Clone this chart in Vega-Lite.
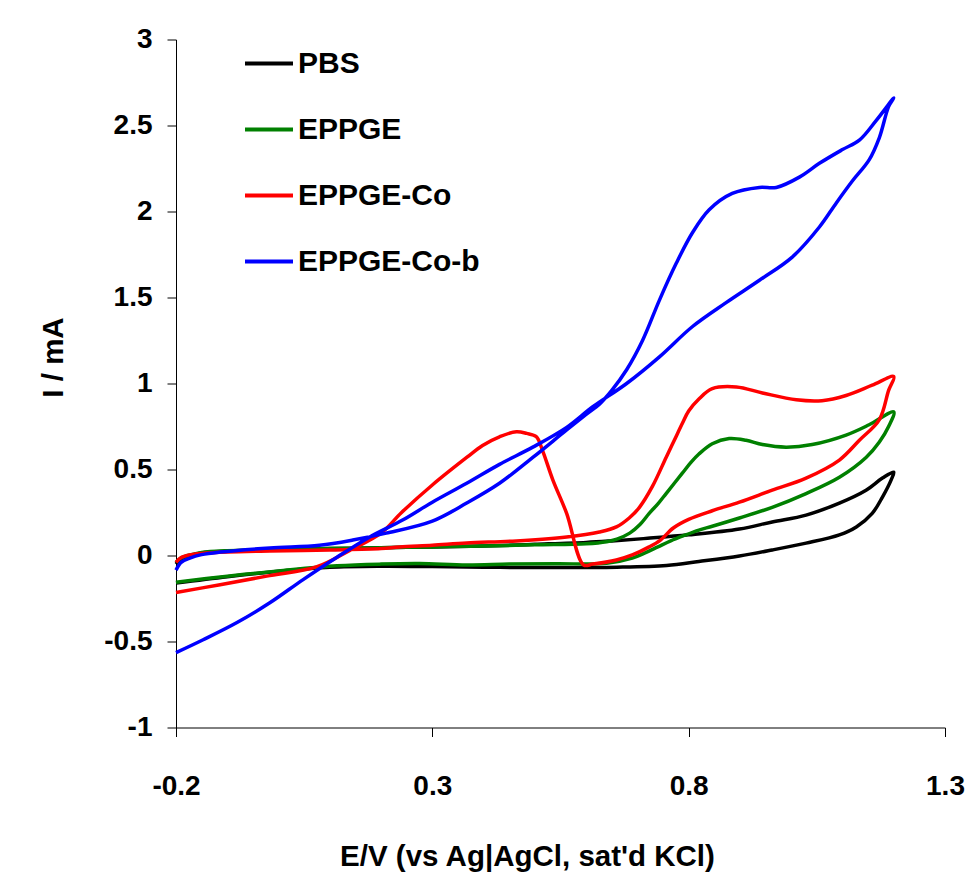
{
  "$schema": "https://vega.github.io/schema/vega-lite/v6.json",
  "width": 769,
  "height": 688,
  "autosize": {"type": "none"},
  "padding": {"left": 176, "top": 39.5, "right": 21, "bottom": 153.5},
  "background": "white",
  "config": {
    "view": {"stroke": null},
    "axis": {
      "grid": false,
      "domainColor": "#000000",
      "domainWidth": 1,
      "tickColor": "#000000",
      "tickWidth": 1,
      "tickSize": 9,
      "labelFont": "Liberation Sans",
      "labelFontWeight": "bold",
      "labelFontSize": 28,
      "labelColor": "#000000",
      "titleFont": "Liberation Sans",
      "titleFontWeight": "bold",
      "titleFontSize": 29.5,
      "titleColor": "#000000"
    },
    "legend": {
      "labelFont": "Liberation Sans",
      "labelFontWeight": "bold",
      "labelFontSize": 30,
      "labelColor": "#000000",
      "labelLimit": 0
    }
  },
  "data": {
    "values": [
      {"s":"PBS","o":1,"x":-0.2,"y":-0.05},{"s":"PBS","o":2,"x":-0.19,"y":-0.02},{"s":"PBS","o":3,"x":-0.17,"y":0.0},{"s":"PBS","o":4,"x":-0.15,"y":0.015},{"s":"PBS","o":5,"x":-0.1,"y":0.025},{"s":"PBS","o":6,"x":0.0,"y":0.035},{"s":"PBS","o":7,"x":0.1,"y":0.04},{"s":"PBS","o":8,"x":0.2,"y":0.045},{"s":"PBS","o":9,"x":0.3,"y":0.05},{"s":"PBS","o":10,"x":0.4,"y":0.055},{"s":"PBS","o":11,"x":0.5,"y":0.065},{"s":"PBS","o":12,"x":0.6,"y":0.076},{"s":"PBS","o":13,"x":0.65,"y":0.085},{"s":"PBS","o":14,"x":0.72,"y":0.1},{"s":"PBS","o":15,"x":0.8,"y":0.12},{"s":"PBS","o":16,"x":0.899,"y":0.154},{"s":"PBS","o":17,"x":0.963,"y":0.195},{"s":"PBS","o":18,"x":1.029,"y":0.235},{"s":"PBS","o":19,"x":1.094,"y":0.305},{"s":"PBS","o":20,"x":1.146,"y":0.38},{"s":"PBS","o":21,"x":1.178,"y":0.45},{"s":"PBS","o":22,"x":1.2,"y":0.485},
      {"s":"PBS","o":23,"x":1.195,"y":0.44},{"s":"PBS","o":24,"x":1.178,"y":0.34},{"s":"PBS","o":25,"x":1.158,"y":0.245},{"s":"PBS","o":26,"x":1.127,"y":0.166},{"s":"PBS","o":27,"x":1.094,"y":0.12},{"s":"PBS","o":28,"x":1.029,"y":0.072},{"s":"PBS","o":29,"x":0.963,"y":0.032},{"s":"PBS","o":30,"x":0.899,"y":-0.003},{"s":"PBS","o":31,"x":0.82,"y":-0.035},{"s":"PBS","o":32,"x":0.757,"y":-0.058},{"s":"PBS","o":33,"x":0.66,"y":-0.068},{"s":"PBS","o":34,"x":0.5,"y":-0.07},{"s":"PBS","o":35,"x":0.4,"y":-0.068},{"s":"PBS","o":36,"x":0.3,"y":-0.064},{"s":"PBS","o":37,"x":0.2,"y":-0.062},{"s":"PBS","o":38,"x":0.1,"y":-0.068},{"s":"PBS","o":39,"x":0.0,"y":-0.092},{"s":"PBS","o":40,"x":-0.1,"y":-0.123},{"s":"PBS","o":41,"x":-0.2,"y":-0.16},

      {"s":"EPPGE","o":1,"x":-0.2,"y":-0.04},{"s":"EPPGE","o":2,"x":-0.19,"y":-0.015},{"s":"EPPGE","o":3,"x":-0.17,"y":0.005},{"s":"EPPGE","o":4,"x":-0.15,"y":0.018},{"s":"EPPGE","o":5,"x":-0.1,"y":0.028},{"s":"EPPGE","o":6,"x":0.0,"y":0.035},{"s":"EPPGE","o":7,"x":0.1,"y":0.04},{"s":"EPPGE","o":8,"x":0.2,"y":0.045},{"s":"EPPGE","o":9,"x":0.3,"y":0.05},{"s":"EPPGE","o":10,"x":0.4,"y":0.055},{"s":"EPPGE","o":11,"x":0.5,"y":0.062},{"s":"EPPGE","o":12,"x":0.6,"y":0.068},{"s":"EPPGE","o":13,"x":0.64,"y":0.08},{"s":"EPPGE","o":14,"x":0.66,"y":0.095},{"s":"EPPGE","o":15,"x":0.685,"y":0.13},{"s":"EPPGE","o":16,"x":0.705,"y":0.18},{"s":"EPPGE","o":17,"x":0.723,"y":0.245},{"s":"EPPGE","o":18,"x":0.74,"y":0.3},{"s":"EPPGE","o":19,"x":0.756,"y":0.36},{"s":"EPPGE","o":20,"x":0.772,"y":0.42},{"s":"EPPGE","o":21,"x":0.788,"y":0.48},{"s":"EPPGE","o":22,"x":0.804,"y":0.54},{"s":"EPPGE","o":23,"x":0.82,"y":0.59},{"s":"EPPGE","o":24,"x":0.846,"y":0.65},{"s":"EPPGE","o":25,"x":0.879,"y":0.68},{"s":"EPPGE","o":26,"x":0.912,"y":0.67},{"s":"EPPGE","o":27,"x":0.944,"y":0.645},{"s":"EPPGE","o":28,"x":0.99,"y":0.63},{"s":"EPPGE","o":29,"x":1.041,"y":0.645},{"s":"EPPGE","o":30,"x":1.107,"y":0.7},{"s":"EPPGE","o":31,"x":1.152,"y":0.76},{"s":"EPPGE","o":32,"x":1.2,"y":0.835},
      {"s":"EPPGE","o":33,"x":1.19,"y":0.75},{"s":"EPPGE","o":34,"x":1.172,"y":0.66},{"s":"EPPGE","o":35,"x":1.146,"y":0.57},{"s":"EPPGE","o":36,"x":1.094,"y":0.455},{"s":"EPPGE","o":37,"x":1.029,"y":0.36},{"s":"EPPGE","o":38,"x":0.963,"y":0.28},{"s":"EPPGE","o":39,"x":0.899,"y":0.218},{"s":"EPPGE","o":40,"x":0.846,"y":0.17},{"s":"EPPGE","o":41,"x":0.82,"y":0.148},{"s":"EPPGE","o":42,"x":0.79,"y":0.115},{"s":"EPPGE","o":43,"x":0.765,"y":0.085},{"s":"EPPGE","o":44,"x":0.74,"y":0.05},{"s":"EPPGE","o":45,"x":0.715,"y":0.015},{"s":"EPPGE","o":46,"x":0.69,"y":-0.015},{"s":"EPPGE","o":47,"x":0.64,"y":-0.045},{"s":"EPPGE","o":48,"x":0.542,"y":-0.048},{"s":"EPPGE","o":49,"x":0.45,"y":-0.05},{"s":"EPPGE","o":50,"x":0.367,"y":-0.055},{"s":"EPPGE","o":51,"x":0.275,"y":-0.047},{"s":"EPPGE","o":52,"x":0.2,"y":-0.05},{"s":"EPPGE","o":53,"x":0.114,"y":-0.06},{"s":"EPPGE","o":54,"x":0.0,"y":-0.09},{"s":"EPPGE","o":55,"x":-0.1,"y":-0.12},{"s":"EPPGE","o":56,"x":-0.2,"y":-0.155},

      {"s":"EPPGE-Co","o":1,"x":-0.2,"y":-0.04},{"s":"EPPGE-Co","o":2,"x":-0.19,"y":-0.012},{"s":"EPPGE-Co","o":3,"x":-0.17,"y":0.005},{"s":"EPPGE-Co","o":4,"x":-0.15,"y":0.012},{"s":"EPPGE-Co","o":5,"x":-0.1,"y":0.02},{"s":"EPPGE-Co","o":6,"x":-0.017,"y":0.026},{"s":"EPPGE-Co","o":7,"x":0.1,"y":0.032},{"s":"EPPGE-Co","o":8,"x":0.2,"y":0.04},{"s":"EPPGE-Co","o":9,"x":0.236,"y":0.05},{"s":"EPPGE-Co","o":10,"x":0.3,"y":0.06},{"s":"EPPGE-Co","o":11,"x":0.367,"y":0.073},{"s":"EPPGE-Co","o":12,"x":0.464,"y":0.085},{"s":"EPPGE-Co","o":13,"x":0.562,"y":0.108},{"s":"EPPGE-Co","o":14,"x":0.626,"y":0.137},{"s":"EPPGE-Co","o":15,"x":0.659,"y":0.166},{"s":"EPPGE-Co","o":16,"x":0.684,"y":0.218},{"s":"EPPGE-Co","o":17,"x":0.704,"y":0.28},{"s":"EPPGE-Co","o":18,"x":0.729,"y":0.4},{"s":"EPPGE-Co","o":19,"x":0.756,"y":0.57},{"s":"EPPGE-Co","o":20,"x":0.772,"y":0.67},{"s":"EPPGE-Co","o":21,"x":0.788,"y":0.77},{"s":"EPPGE-Co","o":22,"x":0.8,"y":0.84},{"s":"EPPGE-Co","o":23,"x":0.82,"y":0.91},{"s":"EPPGE-Co","o":24,"x":0.846,"y":0.97},{"s":"EPPGE-Co","o":25,"x":0.893,"y":0.98},{"s":"EPPGE-Co","o":26,"x":0.944,"y":0.945},{"s":"EPPGE-Co","o":27,"x":1.01,"y":0.905},{"s":"EPPGE-Co","o":28,"x":1.06,"y":0.9},{"s":"EPPGE-Co","o":29,"x":1.107,"y":0.93},{"s":"EPPGE-Co","o":30,"x":1.158,"y":0.99},{"s":"EPPGE-Co","o":31,"x":1.2,"y":1.04},
      {"s":"EPPGE-Co","o":32,"x":1.19,"y":0.96},{"s":"EPPGE-Co","o":33,"x":1.172,"y":0.79},{"s":"EPPGE-Co","o":34,"x":1.133,"y":0.67},{"s":"EPPGE-Co","o":35,"x":1.094,"y":0.555},{"s":"EPPGE-Co","o":36,"x":1.029,"y":0.45},{"s":"EPPGE-Co","o":37,"x":0.963,"y":0.38},{"s":"EPPGE-Co","o":38,"x":0.899,"y":0.31},{"s":"EPPGE-Co","o":39,"x":0.846,"y":0.26},{"s":"EPPGE-Co","o":40,"x":0.8,"y":0.21},{"s":"EPPGE-Co","o":41,"x":0.77,"y":0.16},{"s":"EPPGE-Co","o":42,"x":0.745,"y":0.09},{"s":"EPPGE-Co","o":43,"x":0.723,"y":0.05},{"s":"EPPGE-Co","o":44,"x":0.69,"y":0.003},{"s":"EPPGE-Co","o":45,"x":0.659,"y":-0.026},{"s":"EPPGE-Co","o":46,"x":0.613,"y":-0.05},{"s":"EPPGE-Co","o":47,"x":0.595,"y":-0.055},{"s":"EPPGE-Co","o":48,"x":0.562,"y":0.245},{"s":"EPPGE-Co","o":49,"x":0.535,"y":0.44},{"s":"EPPGE-Co","o":50,"x":0.515,"y":0.61},{"s":"EPPGE-Co","o":51,"x":0.503,"y":0.69},{"s":"EPPGE-Co","o":52,"x":0.484,"y":0.71},{"s":"EPPGE-Co","o":53,"x":0.464,"y":0.72},{"s":"EPPGE-Co","o":54,"x":0.431,"y":0.69},{"s":"EPPGE-Co","o":55,"x":0.398,"y":0.64},{"s":"EPPGE-Co","o":56,"x":0.367,"y":0.57},{"s":"EPPGE-Co","o":57,"x":0.3,"y":0.41},{"s":"EPPGE-Co","o":58,"x":0.24,"y":0.25},{"s":"EPPGE-Co","o":59,"x":0.2,"y":0.13},{"s":"EPPGE-Co","o":60,"x":0.139,"y":0.03},{"s":"EPPGE-Co","o":61,"x":0.075,"y":-0.065},{"s":"EPPGE-Co","o":62,"x":-0.023,"y":-0.12},{"s":"EPPGE-Co","o":63,"x":-0.114,"y":-0.17},{"s":"EPPGE-Co","o":64,"x":-0.2,"y":-0.215},

      {"s":"EPPGE-Co-b","o":1,"x":-0.2,"y":-0.085},{"s":"EPPGE-Co-b","o":2,"x":-0.19,"y":-0.04},{"s":"EPPGE-Co-b","o":3,"x":-0.173,"y":-0.015},{"s":"EPPGE-Co-b","o":4,"x":-0.15,"y":0.005},{"s":"EPPGE-Co-b","o":5,"x":-0.114,"y":0.02},{"s":"EPPGE-Co-b","o":6,"x":-0.017,"y":0.044},{"s":"EPPGE-Co-b","o":7,"x":0.08,"y":0.06},{"s":"EPPGE-Co-b","o":8,"x":0.145,"y":0.09},{"s":"EPPGE-Co-b","o":9,"x":0.21,"y":0.13},{"s":"EPPGE-Co-b","o":10,"x":0.3,"y":0.2},{"s":"EPPGE-Co-b","o":11,"x":0.367,"y":0.305},{"s":"EPPGE-Co-b","o":12,"x":0.431,"y":0.42},{"s":"EPPGE-Co-b","o":13,"x":0.496,"y":0.57},{"s":"EPPGE-Co-b","o":14,"x":0.562,"y":0.73},{"s":"EPPGE-Co-b","o":15,"x":0.6,"y":0.82},{"s":"EPPGE-Co-b","o":16,"x":0.626,"y":0.88},{"s":"EPPGE-Co-b","o":17,"x":0.65,"y":0.96},{"s":"EPPGE-Co-b","o":18,"x":0.679,"y":1.08},{"s":"EPPGE-Co-b","o":19,"x":0.71,"y":1.25},{"s":"EPPGE-Co-b","o":20,"x":0.743,"y":1.485},{"s":"EPPGE-Co-b","o":21,"x":0.776,"y":1.7},{"s":"EPPGE-Co-b","o":22,"x":0.807,"y":1.875},{"s":"EPPGE-Co-b","o":23,"x":0.84,"y":2.01},{"s":"EPPGE-Co-b","o":24,"x":0.885,"y":2.105},{"s":"EPPGE-Co-b","o":25,"x":0.938,"y":2.14},{"s":"EPPGE-Co-b","o":26,"x":0.971,"y":2.14},{"s":"EPPGE-Co-b","o":27,"x":1.016,"y":2.2},{"s":"EPPGE-Co-b","o":28,"x":1.055,"y":2.28},{"s":"EPPGE-Co-b","o":29,"x":1.1,"y":2.36},{"s":"EPPGE-Co-b","o":30,"x":1.133,"y":2.415},{"s":"EPPGE-Co-b","o":31,"x":1.166,"y":2.53},{"s":"EPPGE-Co-b","o":32,"x":1.2,"y":2.66},
      {"s":"EPPGE-Co-b","o":33,"x":1.19,"y":2.61},{"s":"EPPGE-Co-b","o":34,"x":1.172,"y":2.43},{"s":"EPPGE-Co-b","o":35,"x":1.152,"y":2.3},{"s":"EPPGE-Co-b","o":36,"x":1.12,"y":2.18},{"s":"EPPGE-Co-b","o":37,"x":1.088,"y":2.05},{"s":"EPPGE-Co-b","o":38,"x":1.055,"y":1.91},{"s":"EPPGE-Co-b","o":39,"x":1.002,"y":1.735},{"s":"EPPGE-Co-b","o":40,"x":0.938,"y":1.6},{"s":"EPPGE-Co-b","o":41,"x":0.873,"y":1.47},{"s":"EPPGE-Co-b","o":42,"x":0.807,"y":1.33},{"s":"EPPGE-Co-b","o":43,"x":0.743,"y":1.155},{"s":"EPPGE-Co-b","o":44,"x":0.679,"y":1.0},{"s":"EPPGE-Co-b","o":45,"x":0.613,"y":0.865},{"s":"EPPGE-Co-b","o":46,"x":0.562,"y":0.745},{"s":"EPPGE-Co-b","o":47,"x":0.496,"y":0.63},{"s":"EPPGE-Co-b","o":48,"x":0.431,"y":0.53},{"s":"EPPGE-Co-b","o":49,"x":0.367,"y":0.42},{"s":"EPPGE-Co-b","o":50,"x":0.3,"y":0.31},{"s":"EPPGE-Co-b","o":51,"x":0.242,"y":0.206},{"s":"EPPGE-Co-b","o":52,"x":0.178,"y":0.108},{"s":"EPPGE-Co-b","o":53,"x":0.114,"y":-0.01},{"s":"EPPGE-Co-b","o":54,"x":0.048,"y":-0.14},{"s":"EPPGE-Co-b","o":55,"x":-0.017,"y":-0.275},{"s":"EPPGE-Co-b","o":56,"x":-0.081,"y":-0.39},{"s":"EPPGE-Co-b","o":57,"x":-0.147,"y":-0.49},{"s":"EPPGE-Co-b","o":58,"x":-0.2,"y":-0.565}
    ]
  },
  "mark": {"type": "line", "strokeWidth": 3.5, "interpolate": "catmull-rom", "strokeJoin": "round"},
  "encoding": {
    "x": {
      "field": "x",
      "type": "quantitative",
      "scale": {"domain": [-0.2, 1.3], "nice": false, "zero": false},
      "axis": {
        "values": [-0.2, 0.3, 0.8, 1.3],
        "labelExpr": "'' + datum.value",
        "labelPadding": 36,
        "labelFlush": false,
        "labelOverlap": false,
        "title": "E/V (vs Ag|AgCl, sat'd KCl)",
        "titleX": 351,
        "titleY": 137.5,
        "titleBaseline": "alphabetic",
        "titleAlign": "center"
      }
    },
    "y": {
      "field": "y",
      "type": "quantitative",
      "scale": {"domain": [-1, 3], "nice": false, "zero": false},
      "axis": {
        "values": [-1, -0.5, 0, 0.5, 1, 1.5, 2, 2.5, 3],
        "labelExpr": "'' + datum.value",
        "labelPadding": 15,
        "labelFlush": false,
        "labelOverlap": false,
        "title": "I / mA",
        "titleX": -123,
        "titleY": 317.5,
        "titleAngle": -90,
        "titleBaseline": "middle",
        "titleAlign": "center"
      }
    },
    "color": {
      "field": "s",
      "type": "nominal",
      "scale": {
        "domain": ["PBS", "EPPGE", "EPPGE-Co", "EPPGE-Co-b"],
        "range": ["#000000", "#008000", "#ff0000", "#0000ff"]
      },
      "legend": {
        "title": null,
        "orient": "none",
        "legendX": 67,
        "legendY": -2,
        "symbolType": "stroke",
        "symbolStrokeWidth": 4,
        "symbolSize": 2304,
        "labelOffset": 3,
        "rowPadding": 25,
        "padding": 0
      }
    },
    "order": {"field": "o", "type": "quantitative"}
  }
}
